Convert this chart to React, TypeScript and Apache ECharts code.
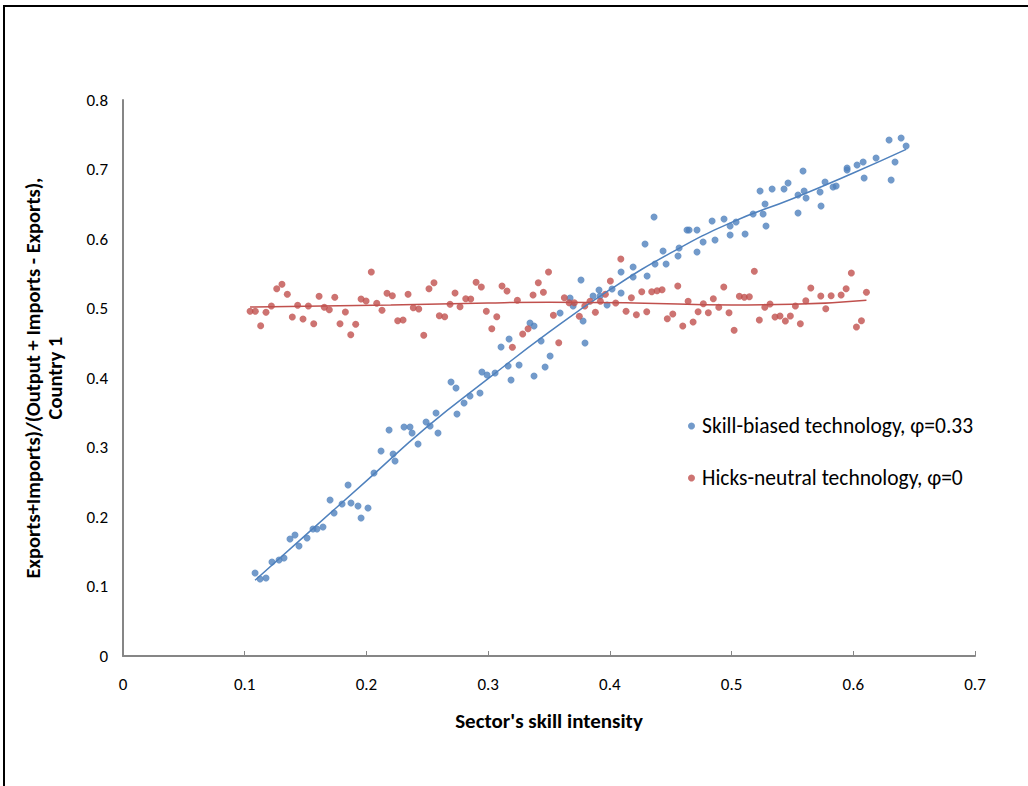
import React, { useEffect, useRef } from "react";
import * as echarts from "echarts";

const xTicks = [0, 0.1, 0.2, 0.3, 0.4, 0.5, 0.6, 0.7];
const yTicks = [0, 0.1, 0.2, 0.3, 0.4, 0.5, 0.6, 0.7, 0.8];

const seriesNames = ["Skill-biased technology, φ=0.33", "Hicks-neutral technology, φ=0"];

const skillBiased: [number, number][] = [
  [0.1085, 0.1194], [0.1126, 0.1108], [0.1175, 0.1122], [0.1224, 0.1353], [0.1282, 0.1381],
  [0.1323, 0.141], [0.1372, 0.1683], [0.1413, 0.1741], [0.1446, 0.1583], [0.1512, 0.1698],
  [0.1561, 0.1827], [0.1594, 0.1827], [0.1643, 0.1856], [0.1701, 0.2245], [0.1734, 0.2058],
  [0.18, 0.2187], [0.1849, 0.246], [0.1873, 0.2201], [0.1931, 0.2158], [0.1956, 0.1986],
  [0.2013, 0.2129], [0.2062, 0.2633], [0.212, 0.295], [0.2186, 0.3252], [0.2219, 0.2906],
  [0.2235, 0.2806], [0.2309, 0.3295], [0.2358, 0.3295], [0.2375, 0.3209], [0.2424, 0.305],
  [0.249, 0.3367], [0.2523, 0.3309], [0.2572, 0.3496], [0.2588, 0.3209], [0.2695, 0.3942],
  [0.2736, 0.3856], [0.2744, 0.3482], [0.2802, 0.364], [0.2851, 0.3741], [0.2933, 0.3784],
  [0.2949, 0.4086], [0.2991, 0.4043], [0.3057, 0.4072], [0.3106, 0.4446], [0.3164, 0.4173],
  [0.3172, 0.4561], [0.3188, 0.3971], [0.3254, 0.4187], [0.3344, 0.4791], [0.3377, 0.4748],
  [0.3377, 0.4029], [0.3435, 0.4532], [0.3468, 0.4158], [0.3509, 0.4317], [0.3591, 0.4935],
  [0.3673, 0.5151], [0.3698, 0.5036], [0.3763, 0.541], [0.378, 0.482], [0.3796, 0.4504],
  [0.3862, 0.518], [0.3911, 0.5266], [0.392, 0.518], [0.3977, 0.505], [0.4018, 0.5281],
  [0.4092, 0.5525], [0.4092, 0.5223], [0.4191, 0.5597], [0.4191, 0.5453], [0.4289, 0.5928],
  [0.4306, 0.5468], [0.4363, 0.6317], [0.4371, 0.564], [0.4437, 0.5827], [0.4462, 0.564],
  [0.456, 0.5755], [0.4569, 0.5871], [0.4634, 0.6129], [0.4651, 0.6129], [0.4716, 0.6129],
  [0.4716, 0.5813], [0.4766, 0.5957], [0.484, 0.6259], [0.4864, 0.5986], [0.4938, 0.6288],
  [0.4988, 0.6058], [0.4988, 0.6187], [0.5037, 0.6245], [0.5111, 0.6072], [0.5177, 0.636],
  [0.5234, 0.6691], [0.5259, 0.636], [0.5275, 0.6504], [0.5283, 0.6187], [0.5333, 0.6719],
  [0.5431, 0.6719], [0.5464, 0.6806], [0.5546, 0.6633], [0.5546, 0.6374], [0.5587, 0.6978],
  [0.5596, 0.6691], [0.5612, 0.659], [0.5727, 0.6676], [0.5735, 0.6475], [0.5768, 0.682],
  [0.5834, 0.6748], [0.5859, 0.6763], [0.5949, 0.7022], [0.5949, 0.6993], [0.6031, 0.7065],
  [0.6081, 0.7108], [0.6089, 0.6878], [0.6187, 0.7165], [0.6294, 0.7424], [0.6311, 0.6849],
  [0.6343, 0.7108], [0.6393, 0.7453], [0.6434, 0.7338],
];

const hicksNeutral: [number, number][] = [
  [0.1044, 0.496], [0.1087, 0.496], [0.1131, 0.4753], [0.1175, 0.4945], [0.1219, 0.5036],
  [0.1263, 0.5285], [0.1306, 0.5348], [0.135, 0.5204], [0.1391, 0.4878], [0.1435, 0.5046],
  [0.1479, 0.4849], [0.1523, 0.5036], [0.1567, 0.4781], [0.1611, 0.5176], [0.1654, 0.5017],
  [0.1695, 0.4983], [0.174, 0.5161], [0.1783, 0.4781], [0.1827, 0.495], [0.1871, 0.4623],
  [0.1912, 0.4773], [0.1956, 0.5137], [0.1997, 0.5108], [0.204, 0.5525], [0.2085, 0.5075],
  [0.2128, 0.4974], [0.2169, 0.5219], [0.2213, 0.5184], [0.2257, 0.4824], [0.2301, 0.4835],
  [0.2342, 0.5204], [0.2385, 0.5012], [0.243, 0.4993], [0.2471, 0.4614], [0.2514, 0.5285],
  [0.2555, 0.5371], [0.2599, 0.4896], [0.2643, 0.4882], [0.2687, 0.506], [0.2728, 0.5223],
  [0.2769, 0.5026], [0.2816, 0.5141], [0.2857, 0.5137], [0.2901, 0.5377], [0.2944, 0.5309],
  [0.2985, 0.496], [0.303, 0.4709], [0.3071, 0.4882], [0.3114, 0.5324], [0.3155, 0.5252],
  [0.3199, 0.4442], [0.324, 0.5118], [0.3284, 0.4633], [0.3328, 0.4709], [0.3369, 0.5194],
  [0.3412, 0.5371], [0.3454, 0.5233], [0.3496, 0.5525], [0.3536, 0.4902], [0.358, 0.4508],
  [0.3626, 0.5155], [0.3665, 0.5083], [0.3708, 0.5083], [0.3749, 0.4888], [0.3794, 0.5036],
  [0.3837, 0.5104], [0.3881, 0.4945], [0.3922, 0.5104], [0.3963, 0.5204], [0.4004, 0.5396],
  [0.4048, 0.5079], [0.409, 0.5712], [0.4133, 0.496], [0.4177, 0.5155], [0.4218, 0.4911],
  [0.4262, 0.5242], [0.4303, 0.4954], [0.4344, 0.5242], [0.4388, 0.5256], [0.4429, 0.5271],
  [0.4472, 0.4853], [0.4517, 0.4921], [0.4558, 0.5324], [0.4599, 0.4748], [0.4643, 0.5104],
  [0.4684, 0.4806], [0.4725, 0.4954], [0.4768, 0.5069], [0.4809, 0.494], [0.485, 0.5141],
  [0.4895, 0.5017], [0.4936, 0.5309], [0.4979, 0.494], [0.5021, 0.4686], [0.5064, 0.5176],
  [0.5105, 0.5161], [0.5146, 0.517], [0.5187, 0.5535], [0.5228, 0.4835], [0.5273, 0.5017],
  [0.5316, 0.5065], [0.5357, 0.4878], [0.5398, 0.4892], [0.5442, 0.482], [0.5483, 0.4892],
  [0.5524, 0.5036], [0.5565, 0.4781], [0.561, 0.5112], [0.5651, 0.5295], [0.5733, 0.518],
  [0.5774, 0.4997], [0.5818, 0.5184], [0.59, 0.5194], [0.5941, 0.5285], [0.5984, 0.5511],
  [0.6026, 0.4734], [0.6067, 0.4824], [0.6108, 0.5233],
];

// Trendlines
const skillTrend: [number, number][] = [
  [0.1085, 0.109], [0.15, 0.174], [0.2, 0.252], [0.25, 0.33], [0.3, 0.399], [0.35, 0.466],
  [0.4, 0.527], [0.45, 0.58], [0.5, 0.624], [0.55, 0.658], [0.6, 0.695], [0.6434, 0.729],
];
const hicksTrend: [number, number][] = [
  [0.1044, 0.502], [0.22, 0.505], [0.3, 0.508], [0.35, 0.509], [0.42, 0.508], [0.5, 0.505],
  [0.55, 0.506], [0.6108, 0.512],
];

const BLUE = "#4F81BD";
const RED = "#C0504D";
const FONT = "Carlito, Lato, 'Noto Sans', sans-serif";

export default function App() {
  const ref = useRef<HTMLDivElement>(null);
  useEffect(() => {
    document.body.style.margin = "0";
    const chart = echarts.init(ref.current!, undefined, { renderer: "svg" });
    chart.setOption({
      animation: false,
      backgroundColor: "#fff",
      textStyle: { fontFamily: FONT },
      graphic: [
        {
          type: "rect",
          shape: { x: 4, y: 6, width: 1100, height: 900 },
          style: { fill: "none", stroke: "#000", lineWidth: 2 },
          silent: true,
        },
      ],
      grid: { left: 123, right: 53, top: 100, bottom: 130, containLabel: false },
      legend: {
        data: seriesNames,
        orient: "vertical",
        left: 683,
        top: 410,
        itemGap: 30,
        icon: "circle",
        itemWidth: 7,
        itemHeight: 7,
        textStyle: { fontSize: 21.5, color: "#000", fontFamily: FONT, padding: [0, 0, 0, 2] },
      },
      xAxis: {
        type: "value",
        min: xTicks[0],
        max: xTicks[xTicks.length - 1],
        interval: 0.1,
        name: "Sector's skill intensity",
        nameLocation: "middle",
        nameGap: 54,
        nameTextStyle: { fontSize: 21, fontWeight: "bold", color: "#000", fontFamily: FONT },
        axisLine: { show: true, lineStyle: { color: "#868686", width: 2 } },
        axisTick: { show: true, inside: true, length: 5, lineStyle: { color: "#868686" } },
        axisLabel: { fontSize: 17, color: "#000", margin: 20, fontFamily: FONT, formatter: (v: number) => String(+v.toFixed(1)) },
        splitLine: { show: false },
      },
      yAxis: {
        type: "value",
        min: yTicks[0],
        max: yTicks[yTicks.length - 1],
        interval: 0.1,
        name: "Exports+Imports)/(Output + Imports - Exports),\nCountry 1",
        nameLocation: "middle",
        nameRotate: 90,
        nameGap: 57,
        nameTextStyle: { fontSize: 20.5, fontWeight: "bold", color: "#000", fontFamily: FONT, lineHeight: 22 },
        axisLine: { show: true, lineStyle: { color: "#868686", width: 2 } },
        axisTick: { show: false },
        axisLabel: { fontSize: 17, color: "#000", margin: 15, fontFamily: FONT, formatter: (v: number) => String(+v.toFixed(1)) },
        splitLine: { show: false },
      },
      series: [
        {
          name: seriesNames[0],
          type: "scatter",
          data: skillBiased,
          symbol: "circle",
          symbolSize: 7,
          itemStyle: { color: BLUE },
          z: 3,
        },
        {
          name: seriesNames[1],
          type: "scatter",
          data: hicksNeutral,
          symbol: "circle",
          symbolSize: 7,
          itemStyle: { color: RED },
          z: 3,
        },
        {
          name: "skillTrend",
          type: "line",
          data: skillTrend,
          smooth: true,
          showSymbol: false,
          silent: true,
          lineStyle: { color: BLUE, width: 1.5 },
          z: 4,
        },
        {
          name: "hicksTrend",
          type: "line",
          data: hicksTrend,
          smooth: true,
          showSymbol: false,
          silent: true,
          lineStyle: { color: RED, width: 1.5 },
          z: 4,
        },
      ],
    });
    return () => chart.dispose();
  }, []);
  return <div ref={ref} style={{ width: 1028, height: 786 }} />;
}
